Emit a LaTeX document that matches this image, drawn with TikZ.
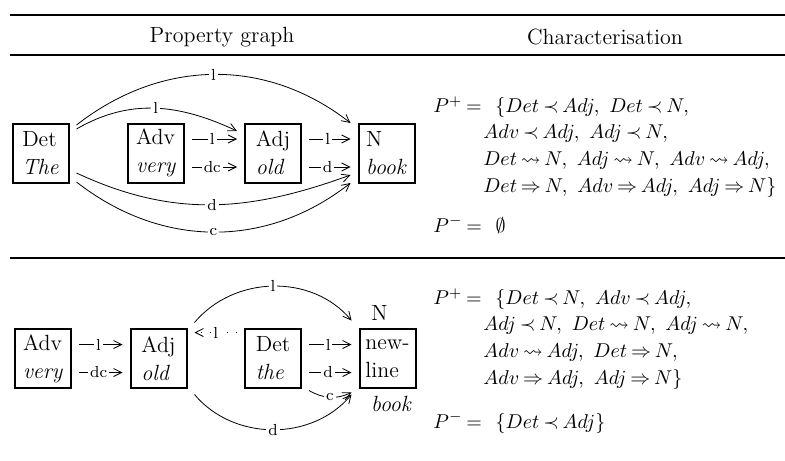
\documentclass[tikz,border=0pt]{standalone}
\usepackage{amsmath}
\usepackage{amssymb}
\usepackage{tikz}
\usetikzlibrary{arrows.meta,calc,positioning}
% tighter space round the relations
\thickmuskip=3.5mu plus 2mu
\tikzset{
>={Straight Barb[length=4pt,width=4pt]},
  wordbox/.style={
    rectangle,
    draw=black, line width=1pt,
    minimum width=28pt,
    minimum height=29.5pt,
    inner sep=2pt,
    outer xsep=4pt,
    align=left},
  dep/.style={draw, thin, ->},
  deplab/.style={fill=white, inner sep=1pt, font=\footnotesize},
  charac/.style={
    anchor=north west,
    inner sep=0pt,
    align=left,
    font=\fontsize{9.8}{13.3}\selectfont},
  tabrule/.style={line width=1pt},
}

\begin{document}
\begin{tikzpicture}[x=0.5pt, y=-0.5pt, font=\fontsize{11}{14}\selectfont]
  \useasboundingbox (0,0) rectangle (785,460);

  % table rules and head
  \draw[tabrule] (10,15) -- (785,15);
  \draw[tabrule] (10,55) -- (785,55);
  \draw[tabrule] (10,258) -- (785,258);
  \node (hgraph) at (222,37) {Property graph};
  \node (hchar) at (605,37) {Characterisation};

  % first graph
  \node[wordbox] (det1) at (40.5,153) {Det\\\textit{The}};
  \node[wordbox] (adv1) at (156,153) {Adv\\\textit{very}};
  \node[wordbox] (adj1) at (273,153) {Adj\\\textit{old}};
  \node[wordbox] (n1) at (386.5,153) {N\\\textit{book}};

  \draw[dep] ([yshift=7pt]adv1.east) -- node[deplab,pos=.45]{l} ([yshift=7pt]adj1.west);
  \draw[dep] ([yshift=-7pt]adv1.east) -- node[deplab,pos=.45]{dc} ([yshift=-7pt]adj1.west);
  \draw[dep] ([yshift=7pt]adj1.east) -- node[deplab,pos=.45]{l} ([yshift=7pt]n1.west);
  \draw[dep] ([yshift=-7pt]adj1.east) -- node[deplab,pos=.45]{d} ([yshift=-7pt]n1.west);
  \draw[dep] ([yshift=12pt]det1.east) to[out=30,in=155] node[deplab]{l} ([yshift=11pt]adj1.west);
  \draw[dep] ([yshift=14pt]det1.east) to[out=38,in=142] node[deplab]{l} ([yshift=15pt]n1.west);
  \draw[dep] ([yshift=-10pt]det1.east) to[out=-25,in=-160] node[deplab]{d} ([yshift=-11pt]n1.west);
  \draw[dep] ([yshift=-14.5pt]det1.east) to[out=-38,in=-142] node[deplab]{c} ([yshift=-15pt]n1.west);

  \node[charac] (char1) at (433,96) {%
    $P^+ =\ \,\{Det \prec Adj,\ Det \prec N,$\\
    \hspace*{25pt}$Adv \prec Adj,\ Adj \prec N,$\\
    \hspace*{25pt}$Det \rightsquigarrow N,\ Adj \rightsquigarrow N,\ Adv \rightsquigarrow Adj,$\\
    \hspace*{25pt}$Det \Rightarrow N,\ Adv \Rightarrow Adj,\ Adj \Rightarrow N\}$\\[6.7pt]
    $P^- =\ \,\emptyset$};

  % second graph
  \node[wordbox] (adv2) at (43,358.5) {Adv\\\textit{very}};
  \node[wordbox] (adj2) at (158.5,358.5) {Adj\\\textit{old}};
  \node[wordbox] (det2) at (273,358.5) {Det\\\textit{the}};
  \node[wordbox, label={[xshift=-4pt]above:N},
    label={[xshift=2pt]below:\textit{book}}] (n2) at (387.5,358.5) {new-\\line};

  \draw[dep] ([yshift=7pt]adv2.east) -- node[deplab,pos=.45]{l} ([yshift=7pt]adj2.west);
  \draw[dep] ([yshift=-7pt]adv2.east) -- node[deplab,pos=.45]{dc} ([yshift=-7pt]adj2.west);
  \draw[dep] ([yshift=7pt]det2.east) -- node[deplab,pos=.45]{l} ([yshift=7pt]n2.west);
  \draw[dep] ([yshift=-7pt]det2.east) -- node[deplab,pos=.45]{d} ([yshift=-7pt]n2.west);
  \draw[dep] ([yshift=-16pt]det2.east) to[out=-30,in=-155] node[deplab]{c} ([yshift=-17pt]n2.west);
  \draw[dep, loosely dotted] ([yshift=13pt]det2.west) -- node[deplab]{l} ([yshift=13pt]adj2.east);
  \draw[dep] ([yshift=18pt]adj2.east) to[out=50,in=130] node[deplab]{l} ([yshift=19pt]n2.west);
  \draw[dep] ([yshift=-18pt]adj2.east) to[out=-50,in=-130] node[deplab]{d} ([yshift=-18pt]n2.west);

  \node[charac] (char2) at (433,288) {%
    $P^+ =\ \,\{Det \prec N,\ Adv \prec Adj,$\\
    \hspace*{25pt}$Adj \prec N,\ Det \rightsquigarrow N,\ Adj \rightsquigarrow N,$\\
    \hspace*{25pt}$Adv \rightsquigarrow Adj,\ Det \Rightarrow N,$\\
    \hspace*{25pt}$Adv \Rightarrow Adj,\ Adj \Rightarrow N\}$\\[8.7pt]
    $P^- =\ \,\{Det \prec Adj\}$};
\end{tikzpicture}
\end{document}
